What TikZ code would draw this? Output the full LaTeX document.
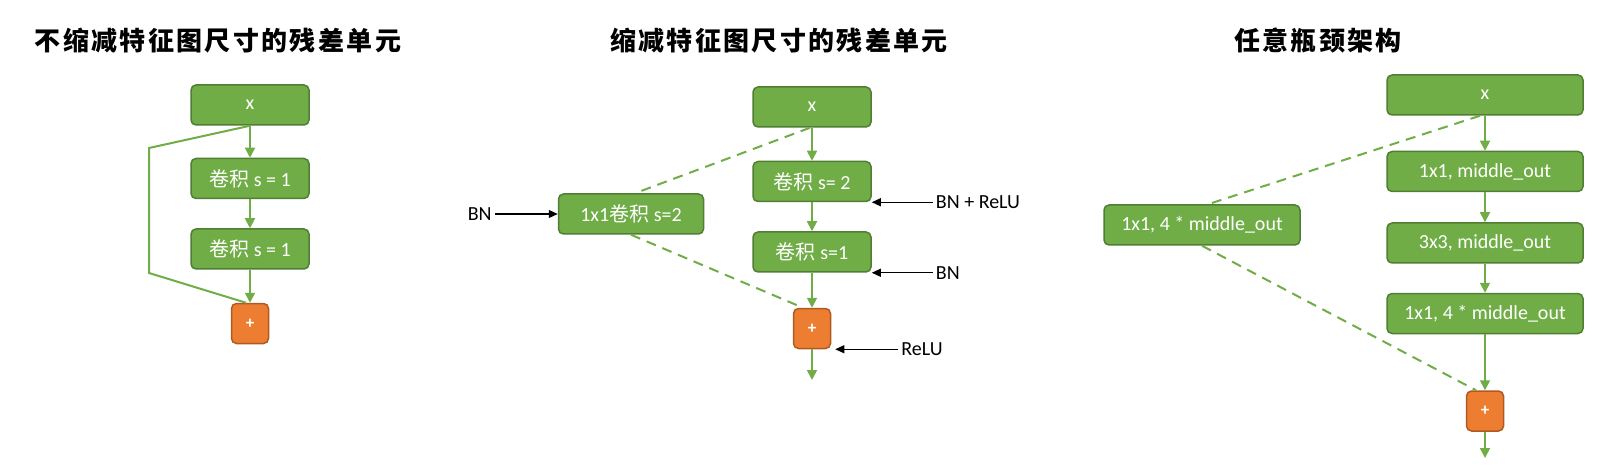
\documentclass[tikz,border=0pt]{standalone}
\usepackage{fontspec}
\setmainfont{Carlito}
\newfontfamily\cjk{Noto Sans CJK SC}
\newfontfamily\cjktitle[LetterSpace=9]{Noto Sans CJK SC}
\usepackage{xcolor}
\definecolor{resgreen}{RGB}{112, 173, 71}
\definecolor{resgreendark}{RGB}{80, 126, 50}
\definecolor{addorange}{RGB}{237, 125, 49}
\definecolor{addorangedark}{RGB}{174, 90, 33}
\usetikzlibrary{arrows.meta, positioning}

\begin{document}
\begin{tikzpicture}[x=1pt, y=1pt,
        convbox/.style={rectangle, draw=resgreendark, fill=resgreen, line width=1.5pt, rounded corners=5pt, minimum width=118pt, minimum height=40pt, inner sep=0pt, text=white, font=\fontsize{20}{22}\selectfont},
        widebox/.style={convbox, minimum width=196pt},
        addbox/.style={rectangle, draw=addorangedark, fill=addorange, line width=1.5pt, rounded corners=5pt, minimum width=37pt, minimum height=40pt, inner sep=0pt, text=white, font=\bfseries\fontsize{17}{18}\selectfont},
        titletext/.style={font=\cjktitle\bfseries\fontsize{26}{30}\selectfont},
        note/.style={font=\fontsize{20}{22}\selectfont, inner sep=3pt},
        line/.style={draw=resgreen, -{Triangle[length=10pt, width=10pt]}, line width=1.8pt},
        skipline/.style={draw=resgreen, line width=2pt},
        shortcut/.style={draw=resgreen, line width=2pt, dash pattern=on 10pt off 7pt},
        notearrow/.style={draw=black, -{Triangle[length=9pt, width=8pt]}, line width=1.2pt}]

        \useasboundingbox (0,0) rectangle (1619,469);

        % titles
        \node [titletext] (title1) at (218,428) {不缩减特征图尺寸的残差单元};
        \node [titletext] (title2) at (779,428) {缩减特征图尺寸的残差单元};
        \node [titletext] (title3) at (1318,428) {任意瓶颈架构};

        % identity block
        \node [convbox] (a0) at (250,364) {x};
        \node [convbox, below=32pt of a0] (a1) {{\cjk 卷积} s = 1};
        \node [convbox, below=29pt of a1] (a2) {{\cjk 卷积} s = 1};
        \node [addbox, below=33pt of a2] (aadd) {+};
        \coordinate (askipa) at (149,321);
        \coordinate (askipb) at (149,196);

        \path [line] (a0) -- (a1);
        \path [line] (a1) -- (a2);
        \path [line] (a2) -- (aadd);
        \path [skipline] (a0.south) -- (askipa) -- (askipb) -- ([xshift=-4pt]aadd.north);

        % downsampling block
        \node [convbox] (b0) at (812,362) {x};
        \node [convbox, below=33pt of b0] (b1) {{\cjk 卷积} s= 2};
        \node [convbox, below=29pt of b1] (b2) {{\cjk 卷积} s=1};
        \node [addbox, below=35pt of b2] (badd) {+};
        \node [convbox, minimum width=145pt] (bproj) at (631,255) {1x1{\cjk 卷积} s=2};
        \coordinate (bout) at (812,89);

        \path [line] (b0) -- (b1);
        \path [line] (b1) -- (b2);
        \path [line] (b2) -- (badd);
        \path [line] (badd) -- (bout);
        \path [shortcut] ([xshift=-2pt]b0.south) -- ([xshift=4pt]bproj.north);
        \path [shortcut] (bproj.south) -- ([xshift=-9pt]badd.north);

        \node [note, left=63pt of bproj.west] (bnproj) {BN};
        \node [note, right=61pt of b1.south east] (bnrelu) {BN + ReLU};
        \node [note, right=61pt of b2.south east] (bnonly) {BN};
        \node [note, right=67pt of badd.south east] (relu) {ReLU};
        \path [notearrow] (bnproj.east) -- (bproj.west);
        \path [notearrow] (bnrelu.west) -- (b1.south east);
        \path [notearrow] (bnonly.west) -- (b2.south east);
        \path [notearrow] (relu.west) -- ([xshift=4pt]badd.south east);

        % bottleneck block
        \node [widebox] (c0) at (1485,374) {x};
        \node [widebox, below=35pt of c0] (c1) {1x1, middle\_out};
        \node [widebox, below=30pt of c1] (c2) {3x3, middle\_out};
        \node [widebox, below=29pt of c2] (c3) {1x1, 4 * middle\_out};
        \node [addbox, below=56pt of c3] (cadd) {+};
        \node [widebox] (cproj) at (1202,244) {1x1, 4 * middle\_out};
        \coordinate (cout) at (1485,11);

        \path [line] (c0) -- (c1);
        \path [line] (c1) -- (c2);
        \path [line] (c2) -- (c3);
        \path [line] (c3) -- (cadd);
        \path [line] (cadd) -- (cout);
        \path [shortcut] ([xshift=-5pt]c0.south) -- ([xshift=6pt]cproj.north);
        \path [shortcut] (cproj.south) -- ([xshift=-9pt]cadd.north);
    \end{tikzpicture}
\end{document}
